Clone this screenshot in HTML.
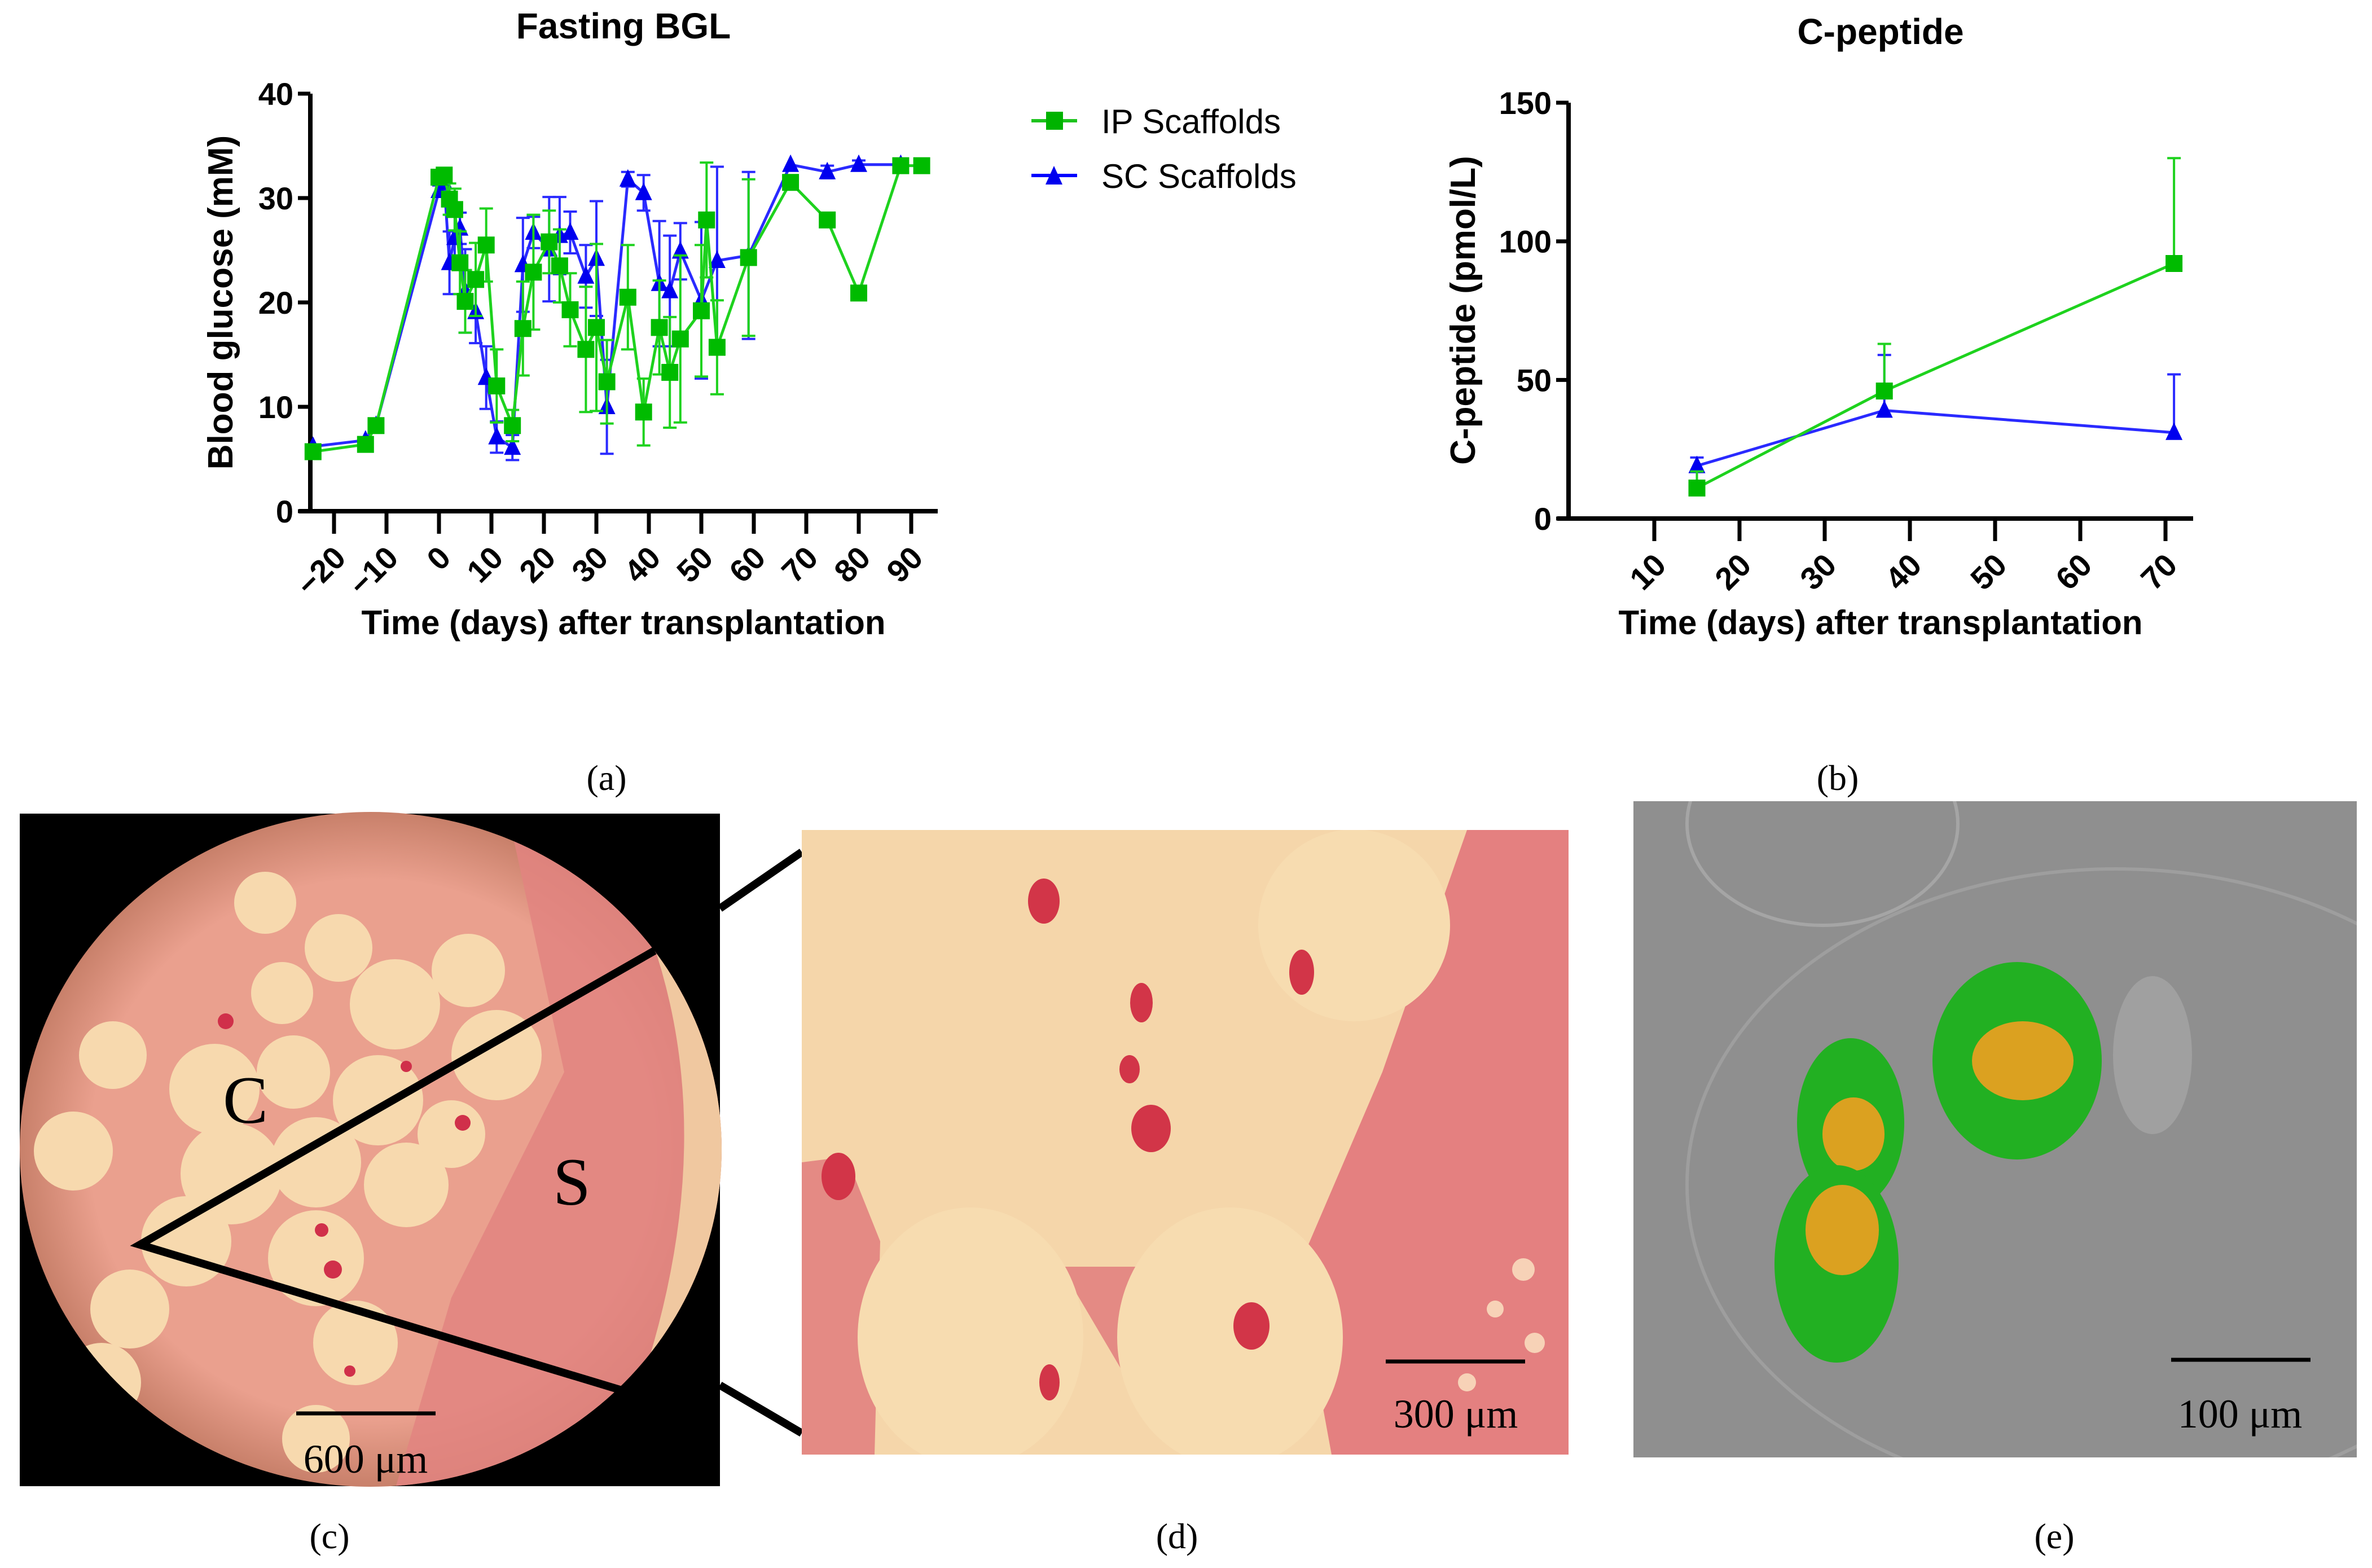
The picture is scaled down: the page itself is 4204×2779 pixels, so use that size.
<!DOCTYPE html>
<html><head><meta charset="utf-8">
<style>
html,body{margin:0;padding:0;background:#fff;}
svg{display:block;}
text{font-family:"Liberation Sans",Arial,sans-serif;}
.serif{font-family:"Liberation Serif",serif;}
</style></head>
<body>
<svg id="fig" width="4204" height="2779" viewBox="0 0 4204 2779" xmlns="http://www.w3.org/2000/svg">
<g id="chartA">
  <text x="1105" y="68" font-size="64" font-weight="bold" text-anchor="middle">Fasting BGL</text>
  <text x="1105" y="1124" font-size="60" font-weight="bold" text-anchor="middle">Time (days) after transplantation</text>
  <text transform="translate(412,536) rotate(-90)" font-size="62" font-weight="bold" text-anchor="middle">Blood glucose (mM)</text>
</g>
<g id="legend">
  <g>
    <line x1="1828" y1="214" x2="1909" y2="214" stroke="#1ec31e" stroke-width="6"/>
    <rect x="1854" y="198" width="30" height="32" fill="#00b300"/>
    <text x="1952" y="236" font-size="60">IP Scaffolds</text>
  </g>
  <g>
    <line x1="1828" y1="311" x2="1909" y2="311" stroke="#0000ff" stroke-width="6"/>
    <polygon points="1868,294 1853,327 1883,327" fill="#0000ee"/>
    <text x="1952" y="333" font-size="60">SC Scaffolds</text>
  </g>
</g>
<g id="chartB">
  <text x="3333" y="78" font-size="64" font-weight="bold" text-anchor="middle">C-peptide</text>
  <text x="3333" y="1124" font-size="60" font-weight="bold" text-anchor="middle">Time (days) after transplantation</text>
  <text transform="translate(2614,550) rotate(-90)" font-size="62" font-weight="bold" text-anchor="middle">C-peptide (pmol/L)</text>
</g>

<g class="serif" font-size="64" text-anchor="middle">
  <text class="serif" x="1075" y="1400">(a)</text>
  <text class="serif" x="3257" y="1400">(b)</text>
  <text class="serif" x="584" y="2744">(c)</text>
  <text class="serif" x="2086" y="2744">(d)</text>
  <text class="serif" x="3641" y="2744">(e)</text>
</g>

<!-- Panel c -->
<g>
  <defs>
    <clipPath id="circC"><ellipse cx="657" cy="2037" rx="622" ry="598"/></clipPath>
    <clipPath id="rectD"><rect x="1421" y="1471" width="1359" height="1107"/></clipPath>
    <clipPath id="rectE"><rect x="2895" y="1420" width="1282" height="1163"/></clipPath>
    <radialGradient id="vign" cx="50%" cy="50%" r="50%"><stop offset="80%" stop-color="#eaa08e"/><stop offset="100%" stop-color="#c8806a"/></radialGradient>
  </defs>
  <rect x="35" y="1442" width="1241" height="1192" fill="#000"/>
  <ellipse cx="657" cy="2037" rx="622" ry="598" fill="url(#vign)"/>
  <g clip-path="url(#circC)">
    <path d="M900 1440 L1290 1440 L1290 2640 L700 2640 L800 2300 L1000 1900Z" fill="#e28480" opacity="0.85"/>
    <path d="M1130 1600 Q1300 2000 1120 2500 L1280 2500 L1280 1600Z" fill="#f0c8a0"/>
    <g fill="#f7d9ae">
      <circle cx="700" cy="1780" r="80"/><circle cx="830" cy="1720" r="65"/><circle cx="880" cy="1870" r="80"/>
      <circle cx="600" cy="1680" r="60"/><circle cx="500" cy="1760" r="55"/><circle cx="520" cy="1900" r="65"/>
      <circle cx="670" cy="1950" r="80"/><circle cx="380" cy="1930" r="80"/><circle cx="410" cy="2080" r="90"/>
      <circle cx="560" cy="2060" r="80"/><circle cx="720" cy="2100" r="75"/><circle cx="560" cy="2230" r="85"/>
      <circle cx="330" cy="2200" r="80"/><circle cx="230" cy="2320" r="70"/><circle cx="630" cy="2380" r="75"/>
      <circle cx="200" cy="1870" r="60"/><circle cx="130" cy="2040" r="70"/><circle cx="180" cy="2450" r="70"/>
      <circle cx="560" cy="2550" r="60"/><circle cx="800" cy="2010" r="60"/><circle cx="470" cy="1600" r="55"/>
    </g>
    <g fill="#d0304a"><circle cx="400" cy="1810" r="14"/><circle cx="820" cy="1990" r="14"/><circle cx="570" cy="2180" r="12"/><circle cx="590" cy="2250" r="16"/><circle cx="620" cy="2430" r="10"/><circle cx="720" cy="1890" r="10"/></g>
  </g>
  <polyline points="1160,1685 248,2206 1105,2465" fill="none" stroke="#000" stroke-width="14"/>
  <text class="serif" x="395" y="1990" font-size="120">C</text>
  <text class="serif" x="980" y="2135" font-size="120">S</text>
  <line x1="525" y1="2505" x2="772" y2="2505" stroke="#000" stroke-width="7"/>
  <text class="serif" x="648" y="2610" font-size="72" text-anchor="middle">600 μm</text>
</g>
<line x1="1276" y1="1610" x2="1421" y2="1510" stroke="#000" stroke-width="14"/>
<line x1="1276" y1="2455" x2="1421" y2="2540" stroke="#000" stroke-width="14"/>

<!-- Panel d -->
<g clip-path="url(#rectD)">
  <rect x="1421" y="1471" width="1359" height="1107" fill="#f5d6aa"/>
  <path d="M2600 1471 L2780 1471 L2780 2578 L2360 2578 L2300 2250 L2450 1900Z" fill="#e48080"/>
  <path d="M1421 2060 L1500 2050 L1560 2200 L1550 2578 L1421 2578Z" fill="#e48a84"/>
  <path d="M1880 2245 L2070 2245 L1995 2440 Z" fill="#e48a84"/>
  <g fill="#f7dcb0"><ellipse cx="2400" cy="1640" rx="170" ry="170"/><ellipse cx="1720" cy="2370" rx="200" ry="230"/><ellipse cx="2180" cy="2370" rx="200" ry="230"/></g>
  <g fill="#fbe6c4" opacity="0.8"><circle cx="2700" cy="2250" r="20"/><circle cx="2650" cy="2320" r="15"/><circle cx="2720" cy="2380" r="18"/><circle cx="2600" cy="2450" r="16"/></g>
  <g fill="#d23548">
    <ellipse cx="1850" cy="1597" rx="28" ry="40"/><ellipse cx="2307" cy="1723" rx="22" ry="40"/>
    <ellipse cx="2023" cy="1777" rx="20" ry="35"/><ellipse cx="2002" cy="1895" rx="18" ry="25"/>
    <ellipse cx="2040" cy="2000" rx="35" ry="42"/><ellipse cx="1486" cy="2085" rx="30" ry="42"/>
    <ellipse cx="2218" cy="2350" rx="32" ry="42"/><ellipse cx="1860" cy="2450" rx="18" ry="32"/>
  </g>
  <line x1="2456" y1="2413" x2="2703" y2="2413" stroke="#000" stroke-width="7"/>
  <text class="serif" x="2580" y="2530" font-size="72" text-anchor="middle">300 μm</text>
</g>

<!-- Panel e -->
<g clip-path="url(#rectE)">
  <rect x="2895" y="1420" width="1282" height="1163" fill="#8f8f8f"/>
  <ellipse cx="3230" cy="1460" rx="240" ry="180" fill="none" stroke="#a5a5a5" stroke-width="6"/>
  <ellipse cx="3750" cy="2100" rx="760" ry="560" fill="none" stroke="#9e9e9e" stroke-width="6"/>
  <ellipse cx="3815" cy="1870" rx="70" ry="140" fill="#a0a0a0"/>
  <ellipse cx="3575" cy="1880" rx="150" ry="175" fill="#22b022"/>
  <ellipse cx="3585" cy="1880" rx="90" ry="70" fill="#f0a020" opacity="0.9"/>
  <ellipse cx="3280" cy="1990" rx="95" ry="150" fill="#22b022"/>
  <ellipse cx="3285" cy="2010" rx="55" ry="65" fill="#f0a020" opacity="0.9"/>
  <ellipse cx="3255" cy="2240" rx="110" ry="175" fill="#22b022"/>
  <ellipse cx="3265" cy="2180" rx="65" ry="80" fill="#f0a020" opacity="0.9"/>
  <line x1="3848" y1="2410" x2="4095" y2="2410" stroke="#000" stroke-width="7"/>
  <text class="serif" x="3970" y="2530" font-size="72" text-anchor="middle">100 μm</text>
</g>
</svg>

<script>
// ---------- Chart A data ----------
const ipDays = [-24,-14,-12,0,1,2,3,4,5,7,9,11,14,16,18,21,23,25,28,30,32,36,39,42,44,46,50,51,53,59,67,74,80,88,92];
const ipVals = [5.7,6.4,8.2,32.0,32.2,29.9,28.9,23.8,20.1,22.2,25.5,12.0,8.2,17.5,22.9,25.8,23.5,19.3,15.5,17.6,12.4,20.5,9.5,17.6,13.3,16.5,19.2,27.9,15.7,24.3,31.5,27.9,20.9,33.1,33.1];
const ipErr  = [0,0,0,0.3,0.3,1.5,2,3,3,3.5,3.5,3.5,1.5,4.5,5.5,3,3.5,3.5,6,8,4,5,3.2,4.5,5.3,8,6.3,5.5,4.5,7.5,0,0,0,0,0];
const scDays = [-24,-14,-12,0,1,2,3,4,5,7,9,11,14,16,18,21,23,25,28,30,32,36,39,42,44,46,50,53,59,67,74,80,88];
const scVals = [6.2,6.8,8.2,30.7,31.5,23.8,26.2,27.1,21.1,19.1,12.8,7.1,6.1,23.6,26.7,25.1,26.4,26.7,22.5,24.2,10.0,31.8,30.5,21.8,21.1,24.9,20.2,24.0,24.5,33.2,32.5,33.2,33.2];
const scErr  = [0,0,0,0.5,0.5,3,2.2,1.5,4,3,3,1.5,1.2,4.5,1.5,5,3.7,2,3,5.5,4.5,0.7,1.7,6,5.3,2.7,7.5,9,8,0,0.6,0.4,0];
const aXTicks = [-20,-10,0,10,20,30,40,50,60,70,80,90];
const aYTicks = [0,10,20,30,40];
// ---------- Chart B data ----------
const cpDays = [15,37,71];
const cpIp = [11,46,92];
const cpIpErr = [6,17,38];
const cpSc = [19,39,31];
const cpScErr = [3,20,21];
const bXTicks = [10,20,30,40,50,60,70];
const bYTicks = [0,50,100,150];

const NS = 'http://www.w3.org/2000/svg';
function mk(tag, attrs, parent){const e=document.createElementNS(NS,tag);for(const k in attrs)e.setAttribute(k,attrs[k]);parent.appendChild(e);return e;}

const GREEN='#00bb00', GREENL='#1ed21e', BLUE='#0000ee', BLUEL='#2a2aff';

function drawChart(g, cfg){
  const X=v=>cfg.x0+(v-cfg.d0)*cfg.px, Y=v=>cfg.y0-(v)*cfg.py;
  const ya=mk('line',{x1:cfg.ax,y1:cfg.yTop,x2:cfg.ax,y2:cfg.y0+4,stroke:'#000','stroke-width':8},g);
  
  
  const xa=mk('line',{x1:cfg.ax-20,y1:cfg.y0,x2:cfg.xEnd,y2:cfg.y0,stroke:'#000','stroke-width':8},g);
  
  
  cfg.yTicks.forEach(t=>{
    const tk=mk('line',{x1:cfg.ax-22,y1:Y(t),x2:cfg.ax,y2:Y(t),stroke:'#000','stroke-width':7},g);
    
    
    const tl=mk('text',{x:cfg.ax-30,y:Y(t)+20,'font-size':56,'font-weight':'bold','text-anchor':'end'},g);
    tl.textContent=t;
    
    
  });
  cfg.xTicks.forEach(t=>{
    const x=X(t);
    const tk=mk('line',{x1:x,y1:cfg.y0,x2:x,y2:cfg.y0+40,stroke:'#000','stroke-width':7},g);
    
    
    const tl=mk('text',{transform:`translate(${x+24},${cfg.y0+86}) rotate(-45)`,'font-size':56,'font-weight':'bold','text-anchor':'end'},g);
    tl.textContent=(t<0?'\u2212'+(-t):t);
    
    
  });
  cfg.series.forEach(s=>{
    const sg=mk('g',{},g);
    
    
    s.days.forEach((d,i)=>{
      const e=s.err[i]; if(!e) return;
      const x=X(d), lo=s.upOnly?s.vals[i]:s.vals[i]-e, hi=s.vals[i]+e;
      const eb=mk('path',{d:`M${x} ${Y(lo)}V${Y(hi)}M${x-12} ${Y(hi)}H${x+12}`+(s.upOnly?'':`M${x-12} ${Y(lo)}H${x+12}`),stroke:s.light,'stroke-width':4,fill:'none'},sg);
      
      
    });
    const pts=s.days.map((d,i)=>X(d)+','+Y(s.vals[i])).join(' ');
    const ln=mk('polyline',{points:pts,fill:'none',stroke:s.light,'stroke-width':5},sg);
    
    
    s.days.forEach((d,i)=>{
      const x=X(d), y=Y(s.vals[i]); let m;
      if(s.shape==='sq') m=mk('rect',{x:x-15,y:y-15,width:30,height:30,fill:s.color},sg);
      else m=mk('polygon',{points:`${x},${y-18} ${x-15},${y+13} ${x+15},${y+13}`,fill:s.color},sg);
      
      
    });
  });
}

drawChart(document.getElementById('chartA'),{
  ax:550,x0:778,d0:0,px:9.3,y0:906,py:18.5,yTop:166,xEnd:1662,
  xTicks:aXTicks,yTicks:aYTicks,
  series:[
    {name:'sc-scaffolds-series',days:scDays,vals:scVals,err:scErr,color:BLUE,light:BLUEL,shape:'tri'},
    {name:'ip-scaffolds-series',days:ipDays,vals:ipVals,err:ipErr,color:GREEN,light:GREENL,shape:'sq'}
  ]});
drawChart(document.getElementById('chartB'),{
  ax:2780,x0:2781,d0:0,px:15.1,y0:919,py:4.913,yTop:182,xEnd:3887,
  xTicks:bXTicks,yTicks:bYTicks,
  series:[
    {name:'sc-scaffolds-series',days:cpDays,vals:cpSc,err:cpScErr,color:BLUE,light:BLUEL,shape:'tri',upOnly:true},
    {name:'ip-scaffolds-series',days:cpDays,vals:cpIp,err:cpIpErr,color:GREEN,light:GREENL,shape:'sq',upOnly:true}
  ]});
</script>
</body></html>
